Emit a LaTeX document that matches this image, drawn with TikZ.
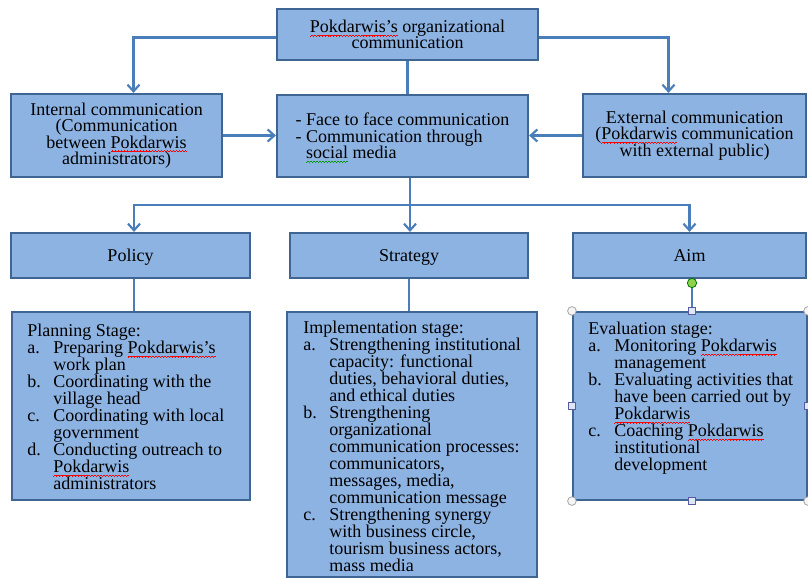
\documentclass[tikz,border=0pt]{standalone}
\usepackage{fontspec}
\setmainfont{Liberation Serif}
\usetikzlibrary{arrows.meta,calc}
\definecolor{boxfill}{HTML}{8DB3E2}
\definecolor{boxline}{HTML}{3F6593}
\definecolor{connc}{HTML}{4A7EBB}
\definecolor{hgreen}{HTML}{8ED14A}
\definecolor{hsq}{HTML}{DCE8F5}
\newcommand\wavecell{\rule[-2.9pt]{0.55pt}{0.5pt}\rule[-2.5pt]{0.55pt}{0.5pt}\rule[-2.1pt]{0.55pt}{0.5pt}\rule[-2.5pt]{0.55pt}{0.5pt}}
\newcommand\sqgen[2]{\leavevmode\setbox0\hbox{#2}\rlap{\smash{\textcolor{#1}{\hbox to \wd0{\xleaders\hbox{\wavecell}\hfil}}}}\box0\relax}
\newcommand\redsq[1]{\sqgen{red}{#1}}
\newcommand\greensq[1]{\sqgen{green!60!black}{#1}}
\newcommand\itemlbl[1]{\makebox[19.5pt][l]{#1}}
\newcommand\itemind{\hspace*{19.5pt}}
\begin{document}
\begin{tikzpicture}[x=0.75pt,y=-0.75pt,
  box/.style={draw=boxline,fill=boxfill,line width=1.6pt,inner sep=0pt,
    font=\fontsize{13.5}{12.3}\selectfont},
  head/.style={box,minimum height=33.75pt,text height=10pt,text depth=1pt},
  txt/.style={inner sep=0pt,align=left,anchor=north west,
    font=\fontsize{13.5}{12.75}\selectfont},
  wire/.style={draw=connc,line width=1.8pt},
  arr/.style={wire,-{Straight Barb[length=5pt,width=9pt,line width=1.6pt]}},
  hcirc/.style={circle,draw=gray!70,fill=gray!8,line width=0.6pt,minimum size=6.5pt,inner sep=0pt},
  hsquare/.style={rectangle,draw=gray!70!blue,fill=hsq,line width=0.6pt,minimum size=5pt,inner sep=0pt},
  hrot/.style={circle,draw=green!45!black,fill=hgreen,line width=0.6pt,minimum size=7pt,inner sep=0pt}]
\useasboundingbox (0,0) rectangle (808,578);

% upper level
\node[box,minimum width=195.75pt,minimum height=38.25pt,align=center] (top) at (407.5,34.5)
  {\redsq{Pokdarwis’s} organizational\\communication};
\node[box,minimum width=158.25pt,minimum height=62.25pt,align=center] (left) at (116.5,135.5)
  {Internal communication\\(Communication\\between \redsq{Pokdarwis}\\administrators)};
\node[box,minimum width=188.25pt,minimum height=61.5pt,align=left] (center) at (402.5,136)
  {- Face to face communication\\- Communication through\\\phantom{- }\greensq{social} media};
\node[box,minimum width=167.25pt,minimum height=62.25pt,align=center] (right) at (694.5,135.5)
  {External communication\\(\redsq{Pokdarwis} communication\\with external public)};

% headers
\node[head,minimum width=179.25pt] (policy) at (130.5,255.5) {Policy};
\node[head,minimum width=178.5pt] (strategy) at (409,255.5) {Strategy};
\node[head,minimum width=174.75pt] (aim) at (689.5,255.5) {Aim};

% lower boxes
\node[box,minimum width=178.5pt,minimum height=141pt] (planning) at (131,406) {};
\node[box,minimum width=187.5pt,minimum height=198.75pt] (impl) at (412,444.5) {};
\node[box,minimum width=175.5pt,minimum height=141pt] (eval) at (690,406) {};

\node[txt] (planningT) at (27,324) {Planning Stage:\\
\itemlbl{a.}Preparing \redsq{Pokdarwis’s}\\
\itemind work plan\\
\itemlbl{b.}Coordinating with the\\
\itemind village head\\
\itemlbl{c.}Coordinating with local\\
\itemind government\\
\itemlbl{d.}Conducting outreach to\\
\itemind\redsq{Pokdarwis}\\
\itemind administrators};

\node[txt] (implT) at (303,321) {Implementation stage:\\
\itemlbl{a.}Strengthening institutional\\
\itemind capacity: functional\\
\itemind duties, behavioral duties,\\
\itemind and ethical duties\\
\itemlbl{b.}Strengthening\\
\itemind organizational\\
\itemind communication processes:\\
\itemind communicators,\\
\itemind messages, media,\\
\itemind communication message\\
\itemlbl{c.}Strengthening synergy\\
\itemind with business circle,\\
\itemind tourism business actors,\\
\itemind mass media};

\node[txt] (evalT) at (588,322) {Evaluation stage:\\
\itemlbl{a.}Monitoring \redsq{Pokdarwis}\\
\itemind management\\
\itemlbl{b.}Evaluating activities that\\
\itemind have been carried out by\\
\itemind\redsq{Pokdarwis}\\
\itemlbl{c.}Coaching \redsq{Pokdarwis}\\
\itemind institutional\\
\itemind development};

% connectors
\draw[arr] ($(top.west)+(0,3)$) -| ($(left.north)+(17,0)$);
\draw[arr] ($(top.east)+(0,3)$) -| ($(right.north)+(-26,0)$);
\draw[wire] (top.south) -- (top.south |- center.north);
\draw[arr] (left.east) -- (left.east -| center.west);
\draw[arr] (right.west) -- (right.west -| center.east);
\coordinate (bus) at (410,205);
\draw[wire] (center.south -| bus) -- (bus);
\draw[arr] (bus) -- (bus |- strategy.north);
\draw[arr] (bus) -| ($(policy.north)+(3.5,0)$);
\draw[arr] (bus) -| (aim.north);
\draw[wire] ($(policy.south)+(3.5,0)$) -- ($(planning.north)+(3,0)$);
\draw[wire] (strategy.south) -- (strategy.south |- impl.north);
\coordinate (rot) at (692,283);
\draw[wire] ($(aim.south)+(2.5,0)$) -- ($(eval.north)+(2,0)$);

% selection handles
\node[hrot] (hr) at (rot) {};
\node[hsquare] (hn) at (eval.north -| rot) {};
\node[hsquare] (hs) at (eval.south -| rot) {};
\node[hsquare] (hw) at (eval.west) {};
\node[hsquare] (he) at (eval.east) {};
\node[hcirc] (hnw) at (eval.north west) {};
\node[hcirc] (hne) at (eval.north east) {};
\node[hcirc] (hsw) at (eval.south west) {};
\node[hcirc] (hse) at (eval.south east) {};
\end{tikzpicture}
\end{document}
